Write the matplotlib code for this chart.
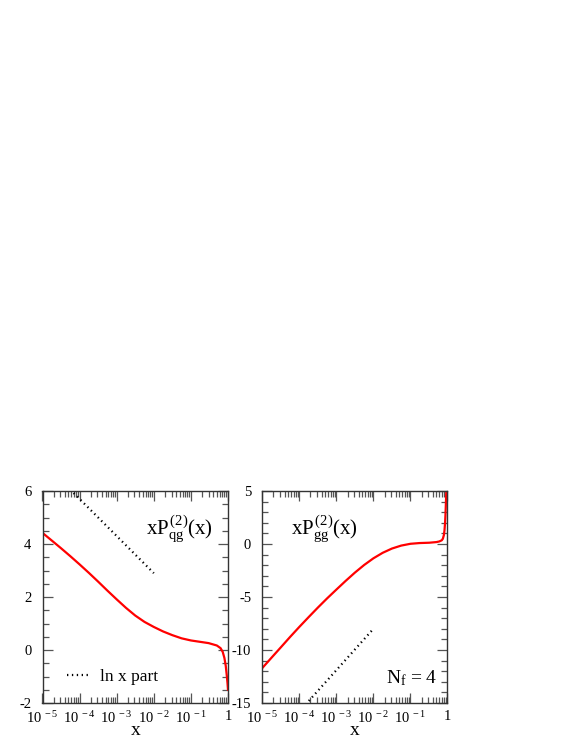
import numpy as np
import matplotlib
matplotlib.use("Agg")
import matplotlib.pyplot as plt
from matplotlib.lines import Line2D
from matplotlib.ticker import LogLocator, MultipleLocator, FixedLocator, FixedFormatter, NullFormatter

plt.rcParams['font.family'] = ['Liberation Serif', 'DejaVu Serif']
plt.rcParams['mathtext.fontset'] = 'custom'
plt.rcParams['mathtext.rm'] = 'Liberation Serif'
plt.rcParams['mathtext.it'] = 'Liberation Serif:italic'
plt.rcParams['mathtext.bf'] = 'Liberation Serif:bold'
plt.rcParams['axes.unicode_minus'] = False

# ---- data ----
x_qg = [1e-5, 1.78e-5, 3.16e-5, 5.62e-5, 1e-4, 1.78e-4, 3.16e-4, 5.62e-4, 1e-3,
        1.78e-3, 3.16e-3, 5.62e-3, 1e-2, 1.78e-2, 3.16e-2, 5.62e-2, 0.1, 0.3,
        0.5, 0.63, 0.72, 0.8, 0.87, 0.93, 0.97, 1.0]
p_qg = [4.42, 4.13, 3.84, 3.54, 3.23, 2.91, 2.58, 2.24, 1.91,
        1.59, 1.30, 1.06, 0.87, 0.70, 0.56, 0.44, 0.36, 0.26,
        0.17, 0.07, -0.07, -0.3, -0.6, -0.98, -1.25, -1.5]

x_gg = [1e-5, 1.78e-5, 3.16e-5, 5.62e-5, 1e-4, 1.78e-4, 3.16e-4, 5.62e-4, 1e-3,
        1.78e-3, 3.16e-3, 5.62e-3, 1e-2, 1.78e-2, 3.16e-2, 5.62e-2, 0.1, 0.178,
        0.32, 0.5, 0.6, 0.7, 0.75, 0.8, 0.83, 0.86, 0.88, 0.9, 0.92, 0.935]
p_gg = [-11.7, -10.72, -9.75, -8.77, -7.82, -6.9, -6.0, -5.13, -4.3,
        -3.48, -2.7, -1.98, -1.35, -0.83, -0.43, -0.15, 0.02, 0.09,
        0.12, 0.18, 0.24, 0.35, 0.5, 0.85, 1.3, 2.0, 2.7, 3.6, 4.6, 5.4]

x_lnx = [1e-5, 1e-2]
lnx_qg = [7.1, 2.9]
lnx_gg = [-19.7, -8.0]

xtick_vals = [1e-5, 1e-4, 1e-3, 1e-2, 1e-1, 1]
xtick_labels = [r'$10^{\,\,-5}$', r'$10^{\,\,-4}$', r'$10^{\,\,-3}$',
                r'$10^{\,\,-2}$', r'$10^{\,\,-1}$', '1']
yticks_qg = [-2, 0, 2, 4, 6]
yticks_gg = [-15, -10, -5, 0, 5]

W, H = 572, 740
fig = plt.figure(figsize=(W / 100, H / 100), dpi=100)

def px_axes(x0, x1, y0, y1):
    return fig.add_axes([x0 / W, 1 - y1 / H, (x1 - x0) / W, (y1 - y0) / H])

ax1 = px_axes(42.5, 228, 491, 703)
ax2 = px_axes(262.3, 447.5, 491, 703)

dot_style = dict(color='black', lw=1.6, linestyle=(0, (0.6, 1.6)))

def style(ax, yticks, ylim, yminor):
    ax.set_xscale('log')
    ax.set_xlim(1e-5, 1)
    ax.set_ylim(*ylim)
    ax.xaxis.set_major_locator(FixedLocator(xtick_vals))
    ax.xaxis.set_major_formatter(FixedFormatter(xtick_labels))
    ax.xaxis.set_minor_locator(LogLocator(base=10, subs=np.arange(2, 10), numticks=20))
    ax.xaxis.set_minor_formatter(NullFormatter())
    ax.yaxis.set_major_locator(FixedLocator(yticks))
    ax.yaxis.set_minor_locator(MultipleLocator(yminor))
    ax.tick_params(which='both', direction='in', top=True, right=True,
                   color='#555555', labelsize=10.5, width=0.9)
    ax.tick_params(which='major', length=7)
    ax.tick_params(which='minor', length=4)
    ax.tick_params(axis='y', which='major', pad=8)
    ax.tick_params(axis='x', which='major', pad=5)
    for s in ax.spines.values():
        s.set_color('#333333')
        s.set_linewidth(1.0)
    ax.set_xlabel('x', fontsize=14)
    ax.xaxis.label.set_va('baseline')
    ax.xaxis.set_label_coords(0.5, (703 - 735) / 212)

style(ax1, yticks_qg, (-2, 6), 0.5)
style(ax2, yticks_gg, (-15, 5), 1)

ax1.plot(x_qg, p_qg, color='#ff0000', lw=1.6)
ax1.plot(x_lnx, lnx_qg, **dot_style)
ax2.plot(x_gg, p_gg, color='#ff0000', lw=1.6)
ax2.plot(x_lnx, lnx_gg, **dot_style)

ax1.text(0.558, 0.825, r'$\mathrm{xP_{qg}^{\,(2)}(x)}$', transform=ax1.transAxes,
         fontsize=15, ha='left', va='center')
ax2.text(0.157, 0.825, r'$\mathrm{xP_{gg}^{\,(2)}(x)}$', transform=ax2.transAxes,
         fontsize=15, ha='left', va='center')
ax2.text(0.667, 0.115, r'$\mathrm{N_f}$ = 4', transform=ax2.transAxes,
         fontsize=14, ha='left', va='center')

h = Line2D([], [], **dot_style)
ax1.legend([h], ['ln x part'], loc='center left', bbox_to_anchor=(0.13, 0.123),
           frameon=False, fontsize=12.5, handlelength=1.3, handletextpad=0.65,
           borderpad=0, borderaxespad=0)

fig.savefig('out.png', dpi=100)
